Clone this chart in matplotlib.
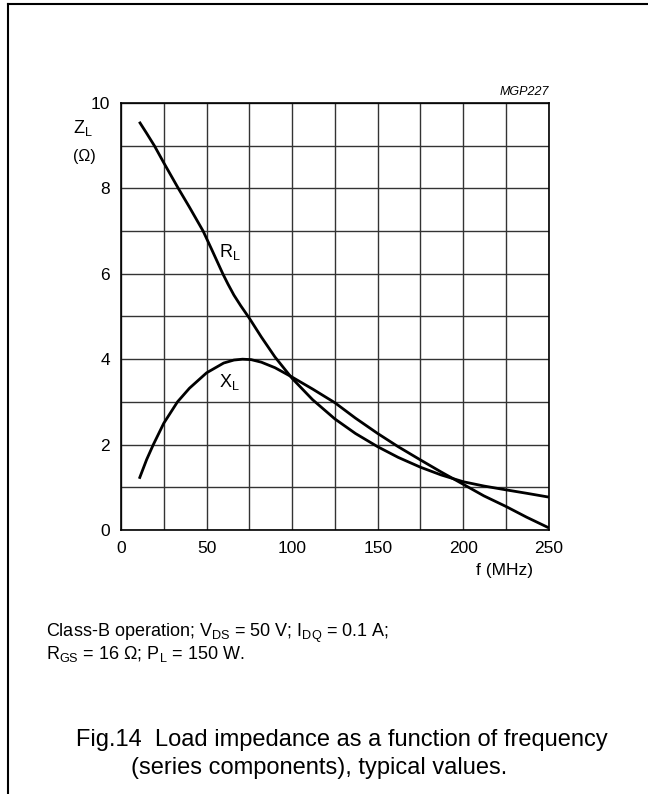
import numpy as np
import matplotlib
matplotlib.use('Agg')
import matplotlib.pyplot as plt
from matplotlib.lines import Line2D

plt.rcParams['font.family'] = ['Liberation Sans', 'DejaVu Sans']
plt.rcParams['mathtext.fontset'] = 'custom'
plt.rcParams['mathtext.rm'] = 'Liberation Sans'
plt.rcParams['mathtext.it'] = 'Liberation Sans:italic'

# load impedance (f in MHz, ohm)
f_rl = [10.7, 15, 19.5, 25, 33.5, 40, 48, 53, 59.5, 62.5, 66, 70, 75, 82, 90, 100,
        112, 125, 137, 150, 162, 175, 187, 200, 212, 225, 237, 250]
r_l = [9.56, 9.29, 9.0, 8.6, 8.0, 7.56, 7.0, 6.57, 6.0, 5.76, 5.5, 5.25, 4.96, 4.52,
       4.05, 3.55, 3.05, 2.6, 2.26, 1.95, 1.7, 1.47, 1.29, 1.13, 1.03, 0.94, 0.86, 0.77]

f_xl = [10.7, 15, 18.9, 25, 33, 40, 50, 60, 66, 71, 76, 82, 90, 100, 112, 125, 137,
        150, 162, 175, 187, 200, 212, 225, 237, 250]
x_l = [1.2, 1.65, 2.0, 2.5, 3.0, 3.32, 3.68, 3.91, 3.98, 4.0, 3.99, 3.93, 3.8, 3.58,
       3.3, 2.98, 2.62, 2.26, 1.95, 1.64, 1.36, 1.07, 0.8, 0.55, 0.3, 0.05]

xticks = [0, 50, 100, 150, 200, 250]
yticks = [0, 2, 4, 6, 8, 10]

fig = plt.figure(figsize=(6.48, 7.94), dpi=100)
ax = fig.add_axes([0.1867, 0.3325, 0.847 - 0.1867, 0.8703 - 0.3325])

ax.set_xlim(0, 250)
ax.set_ylim(0, 10)
ax.set_xticks(xticks)
ax.set_yticks(yticks)
ax.set_xticks(np.arange(0, 251, 25), minor=True)
ax.set_yticks(np.arange(0, 11, 1), minor=True)
ax.grid(True, which='both', color='#333333', lw=1.0)
ax.tick_params(which='both', length=0, labelsize=12.5, pad=8)
for s in ax.spines.values():
    s.set_linewidth(1.2)
    s.set_color('black')

ax.plot(f_rl, r_l, color='black', lw=2.0, solid_capstyle='butt', solid_joinstyle='round')
ax.plot(f_xl, x_l, color='black', lw=2.0, solid_capstyle='butt', solid_joinstyle='round')

ax.text(57.5, 6.5, 'R$_{\\mathrm{L}}$', fontsize=13, va='center')
ax.text(57.5, 3.47, 'X$_{\\mathrm{L}}$', fontsize=13, va='center')

ax.text(250, 10.12, 'MGP227', fontsize=9, style='italic', ha='right', va='bottom')
fig.text(504 / 648, 1 - 570 / 794, 'f (MHz)', fontsize=12.5, ha='center', va='center')
fig.text(83 / 648, 1 - 128 / 794, 'Z$_{\\mathrm{L}}$', fontsize=13, ha='center', va='center')
fig.text(84 / 648, 1 - 156 / 794, '(\u03a9)', fontsize=11.5, ha='center', va='center')

fig.text(46 / 648, 1 - 633 / 794,
         'Class-B operation; V$_{\\mathrm{DS}}$ = 50 V; I$_{\\mathrm{DQ}}$ = 0.1 A;',
         fontsize=13, ha='left', va='center')
fig.text(46 / 648, 1 - 654 / 794,
         'R$_{\\mathrm{GS}}$ = 16 \u03a9; P$_{\\mathrm{L}}$ = 150 W.',
         fontsize=13, ha='left', va='center')

fig.text(76 / 648, 1 - 740 / 794, 'Fig.14  Load impedance as a function of frequency',
         fontsize=17, ha='left', va='center')
fig.text(131 / 648, 1 - 768 / 794, '(series components), typical values.',
         fontsize=17, ha='left', va='center')

# page frame (top and left edges)
fig.add_artist(Line2D([8 / 648, 1], [1 - 4 / 794, 1 - 4 / 794], color='black', lw=1.5))
fig.add_artist(Line2D([8 / 648, 8 / 648], [0, 1 - 4 / 794], color='black', lw=1.5))

fig.savefig('out.png', dpi=100)
